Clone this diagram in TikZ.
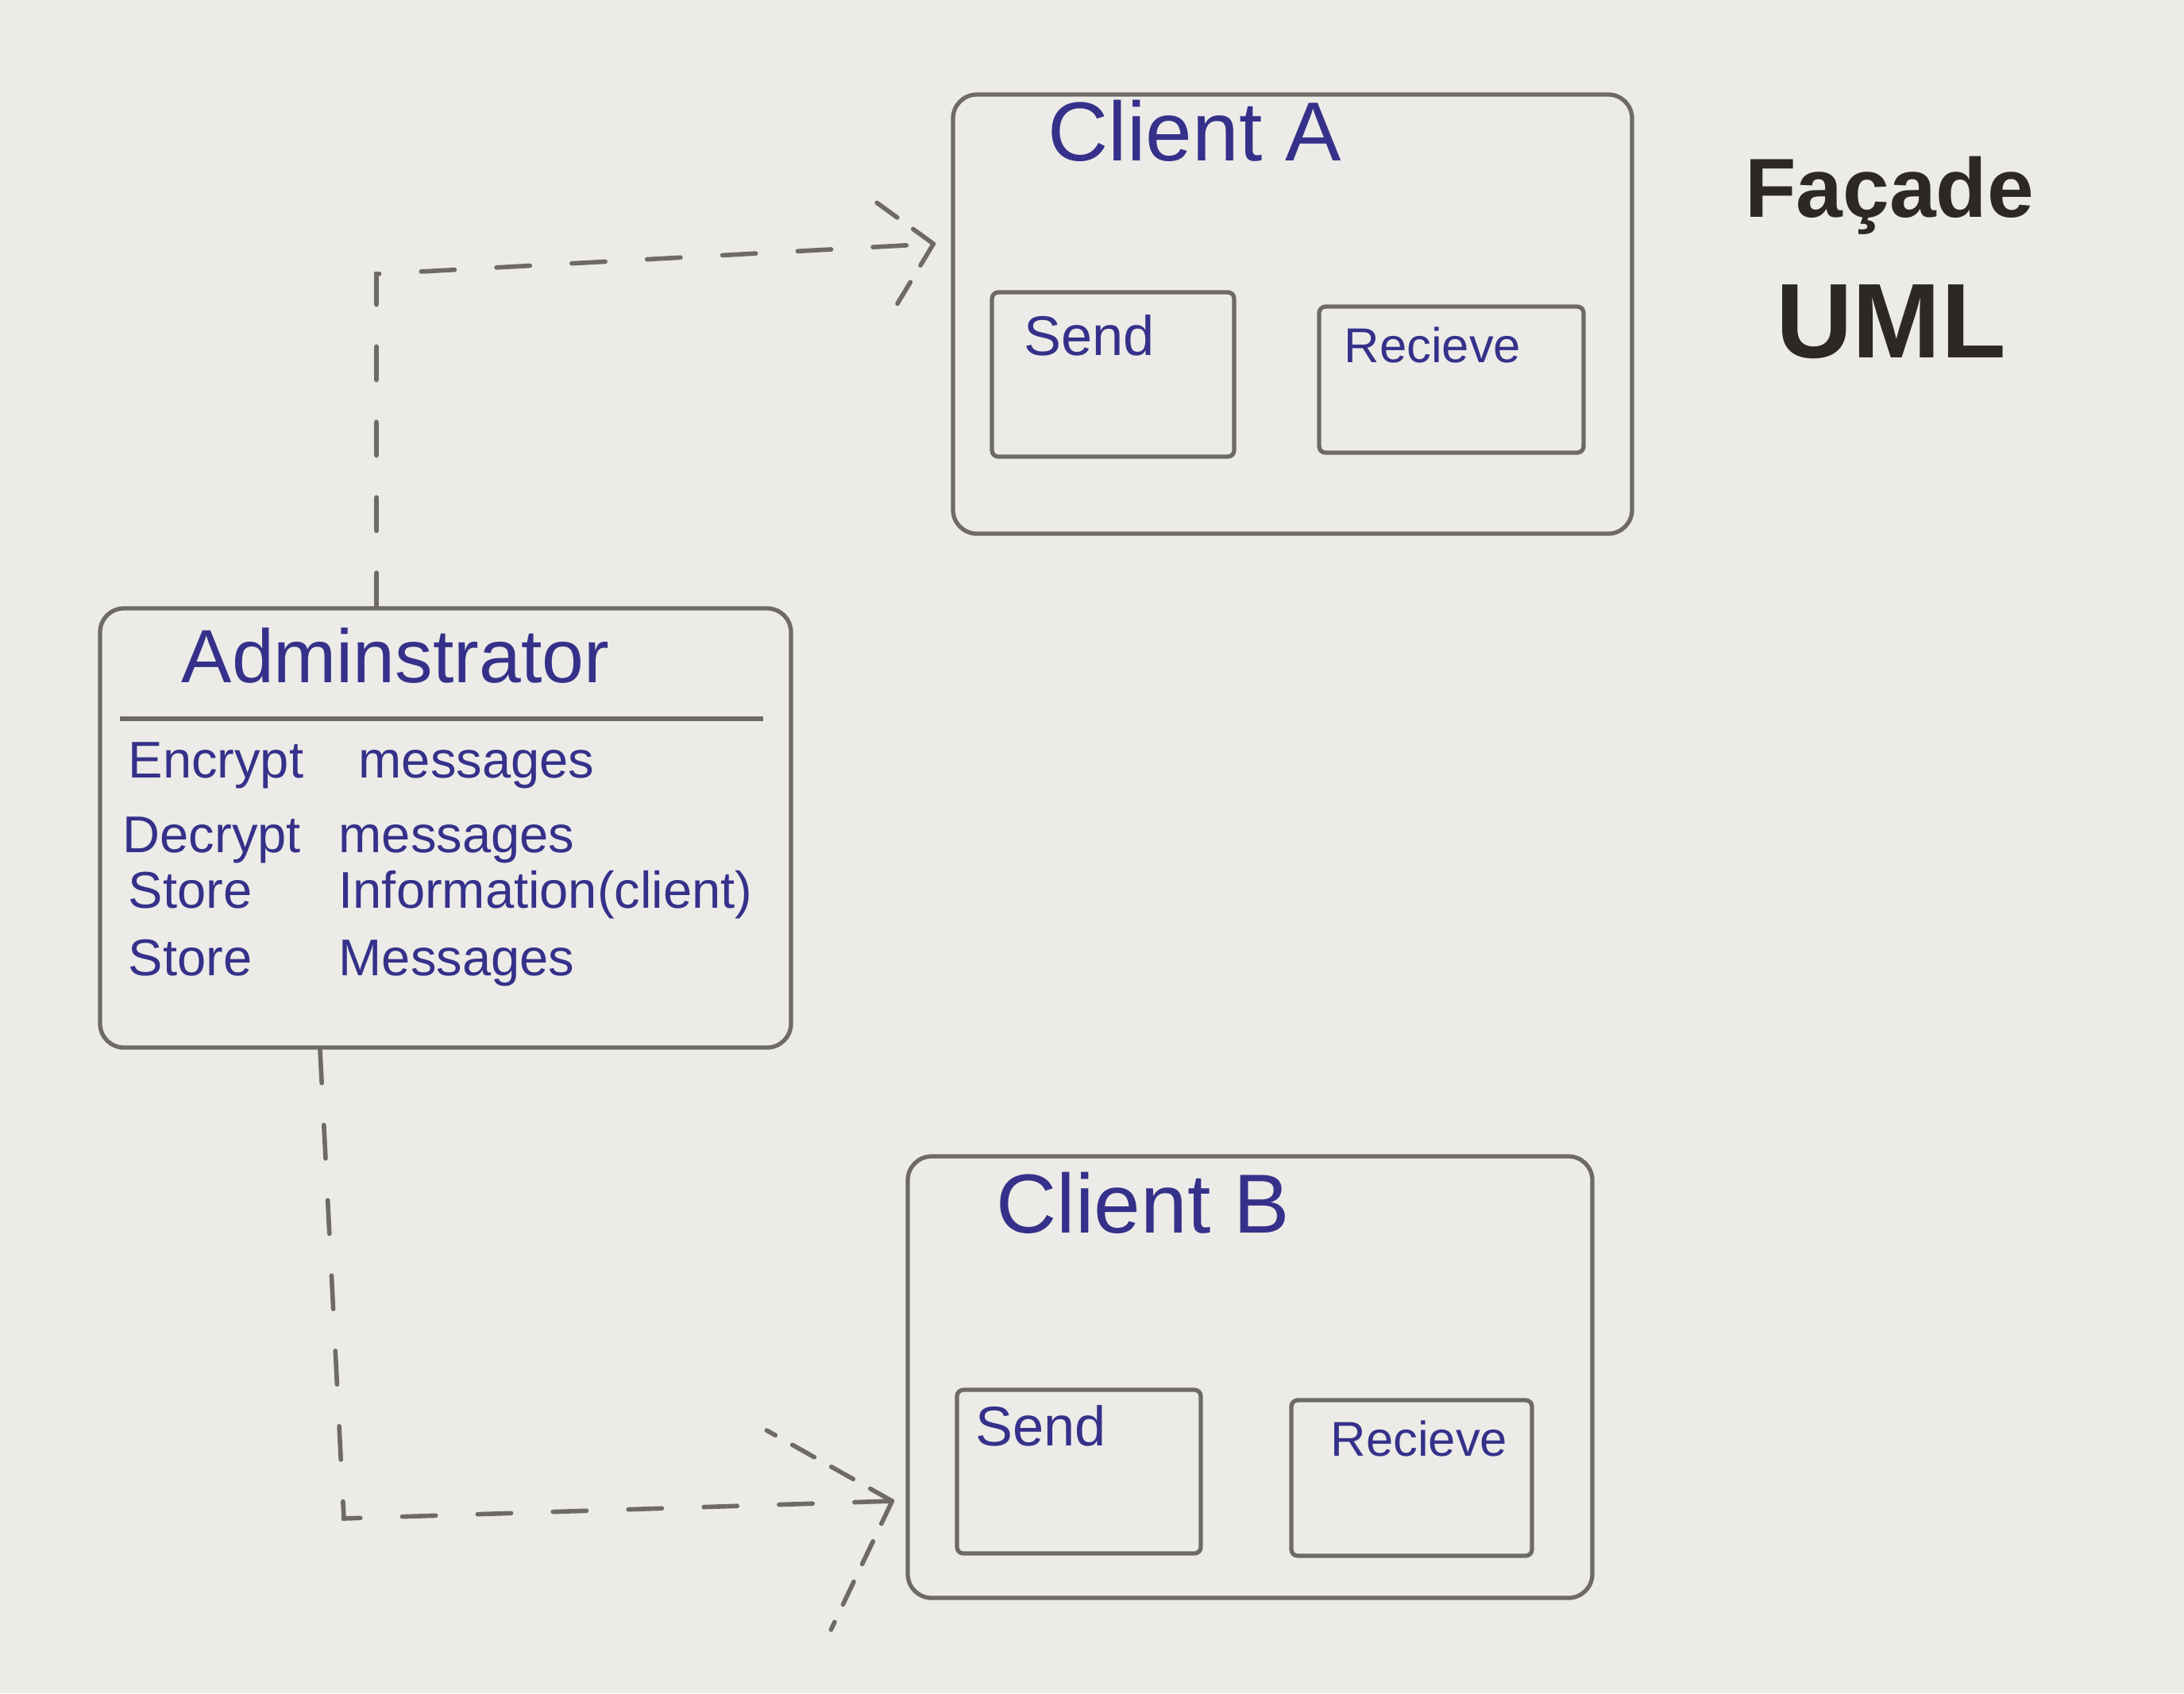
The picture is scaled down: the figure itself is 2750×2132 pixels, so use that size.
\documentclass[tikz,border=0pt]{standalone}
\usepackage{fontspec}
\setmainfont{Liberation Sans}
\usetikzlibrary{fit}
\definecolor{paper}{HTML}{ECEBE7}
\definecolor{pencil}{HTML}{6E6B66}
\definecolor{ink}{HTML}{35318A}
\definecolor{marker}{HTML}{2B2826}
\begin{document}
\begin{tikzpicture}[x=0.01cm,y=-0.01cm,
  bigbox/.style={draw=pencil,line width=1.5pt,rounded corners=0.3cm,inner sep=0pt},
  opbox/.style={draw=pencil,line width=1.5pt,rounded corners=0.08cm,inner sep=0pt},
  dashline/.style={draw=pencil,line width=1.6pt,line cap=round,dash pattern=on 12pt off 15pt},
  barb/.style={draw=pencil,line width=1.6pt,line cap=round,dash pattern=on 9pt off 7pt},
  title/.style={font=\fontsize{30}{36}\selectfont,text=ink,anchor=base west,inner sep=0pt},
  optext/.style={font=\fontsize{20}{24}\selectfont,text=ink,anchor=base west,inner sep=0pt},
  optextwide/.style={optext,font=\fontsize{17.5}{21}\selectfont},
  member/.style={font=\fontsize{18.5}{22}\selectfont,text=ink,anchor=base west,inner sep=0pt}]

% paper
\fill[paper] (0,0) rectangle (2750,2132);
\useasboundingbox (0,0) rectangle (2750,2132);

% heading
\node[font=\fontsize{30}{36}\selectfont\bfseries,text=marker] (head1) at (2379,246) {Façade};
\node[font=\fontsize{38}{44}\selectfont\bfseries,text=marker] (head2) at (2381,405) {UML};

% Client A
\node[bigbox,fit={(1200,119) (2055,672)}] (clientA) {};
\node[title] (clientAname) at (1319,202) {Client A};
\node[opbox,fit={(1249,368) (1554,575)}] (sendA) {};
\node[optext] (sendAtxt) at (1289,447) {Send};
\node[opbox,fit={(1661,386) (1994,570)}] (recvA) {};
\node[optextwide] (recvAtxt) at (1692,456) {Recieve};

% Client B
\node[bigbox,fit={(1143,1456) (2005,2012)}] (clientB) {};
\node[title] (clientBname) at (1254,1552) {Client B};
\node[opbox,fit={(1205,1750) (1512,1956)}] (sendB) {};
\node[optext] (sendBtxt) at (1228,1820) {Send};
\node[opbox,fit={(1626,1763) (1929,1959)}] (recvB) {};
\node[optextwide] (recvBtxt) at (1675,1833) {Recieve};

% Administrator class
\node[bigbox,fit={(126,766) (996,1319)}] (admin) {};
\node[title,font=\fontsize{27}{32}\selectfont] (adminname) at (228,859) {Adminstrator};
\draw[pencil,line width=1.5pt] (admin.west |- 0,905) ++(28,0) coordinate (divL) -- ([xshift=-0.38cm]admin.east |- 0,905) coordinate (divR);
\node[member] (m1a) at (161,979) {Encrypt};
\node[member] (m1b) at (451,979) {messages};
\node[member] (m2a) at (154,1073) {Decrypt};
\node[member] (m2b) at (426,1073) {messages};
\node[member] (m3a) at (161,1143) {Store};
\node[member] (m3b) at (426,1143) {Information(client)};
\node[member] (m4a) at (161,1228) {Store};
\node[member] (m4b) at (426,1228) {Messages};

% dependency Administrator -> Client A
\coordinate (tipA) at ([xshift=-0.22cm]clientA.west |- 0,307);
\coordinate (bendA) at (474,345);
\draw[dashline] (admin.north -| bendA) -- (bendA) -- (tipA);
\draw[barb] (tipA) -- ++(-73,-53);
\draw[barb] (tipA) -- ++(-56,93);

% dependency Administrator -> Client B
\coordinate (tipB) at ([xshift=-0.17cm]clientB.west |- 0,1890);
\coordinate (bendB) at (433,1912);
\draw[dashline] (admin.south -| 403,0) -- (bendB) -- (tipB);
\draw[barb] (tipB) -- ++(-158,-89);
\draw[barb] (tipB) -- ++(-77,162);

\end{tikzpicture}
\end{document}
